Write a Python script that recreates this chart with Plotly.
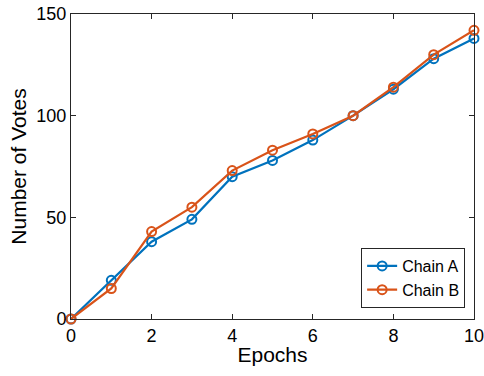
import plotly.graph_objects as go

epochs = [0, 1, 2, 3, 4, 5, 6, 7, 8, 9, 10]
chain_a = [0, 19, 38, 49, 70, 78, 88, 100, 113, 128, 138]
chain_b = [0, 15, 43, 55, 73, 83, 91, 100, 114, 130, 142]
x_ticks = [0, 2, 4, 6, 8, 10]
y_ticks = [0, 50, 100, 150]

FONT = "Liberation Sans, Arial"

fig = go.Figure()
for name, ys, col in [("Chain A", chain_a, "#0072BD"), ("Chain B", chain_b, "#D95319")]:
    fig.add_trace(go.Scatter(
        x=epochs, y=ys, name=name, mode="lines+markers",
        line=dict(color=col, width=2.2),
        marker=dict(symbol="circle-open", size=9, color=col, line=dict(width=2, color=col)),
        cliponaxis=False,
    ))

axis_common = dict(
    showgrid=False, zeroline=False, showline=True, linecolor="#262626", linewidth=1,
    mirror="allticks", ticks="inside", ticklen=5, tickcolor="#262626",
    tickfont=dict(family=FONT, size=18, color="#000"), automargin=False,
    ticklabeloverflow="allow",
)
fig.update_xaxes(range=[0, 10], tickvals=x_ticks, **axis_common,
                 title=dict(text="Epochs", font=dict(family=FONT, size=21, color="#000"), standoff=2))
fig.update_yaxes(range=[0, 150], tickvals=y_ticks, **axis_common,
                 title=dict(text="Number of Votes", font=dict(family=FONT, size=21, color="#000"), standoff=4))

fig.update_layout(
    width=484, height=376,
    margin=dict(l=71, r=10, t=14, b=57),
    plot_bgcolor="white", paper_bgcolor="white",
    legend=dict(x=0.978, y=0.036, xanchor="right", yanchor="bottom",
                bgcolor="white", bordercolor="#262626", borderwidth=1,
                font=dict(family=FONT, size=16, color="#000"),
                tracegroupgap=0, itemwidth=30),
    showlegend=True,
)
fig.write_html("out.html")
